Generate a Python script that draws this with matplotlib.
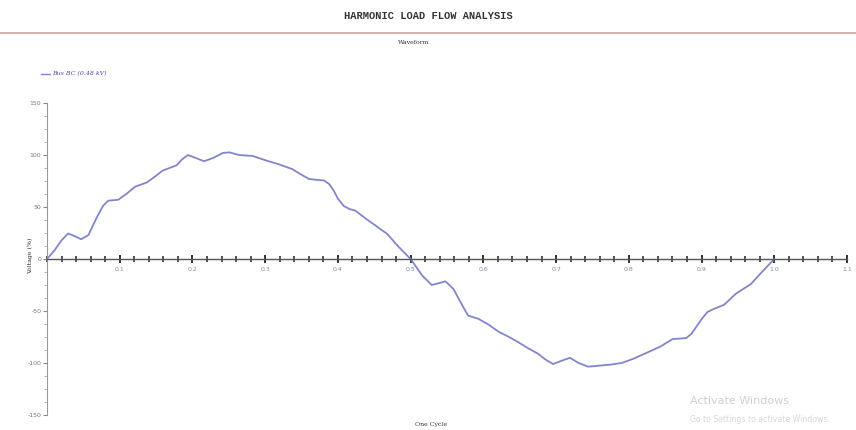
import matplotlib
matplotlib.use('Agg')
import matplotlib.pyplot as plt
from matplotlib.ticker import MultipleLocator, FixedLocator
from matplotlib.lines import Line2D

# one cycle of the bus voltage waveform, % of nominal
cycle = [0.000, 0.010, 0.020, 0.029, 0.038, 0.047, 0.057, 0.063, 0.070, 0.077,
         0.084, 0.098, 0.110, 0.121, 0.137, 0.148, 0.159, 0.178, 0.186, 0.194,
         0.205, 0.216, 0.228, 0.242, 0.251, 0.264, 0.283, 0.300, 0.319, 0.337,
         0.350, 0.360, 0.372, 0.381, 0.388, 0.394, 0.400, 0.408, 0.416, 0.424,
         0.438, 0.452, 0.468, 0.483, 0.500, 0.516, 0.529, 0.548, 0.559, 0.569,
         0.579, 0.593, 0.607, 0.621, 0.634, 0.648, 0.662, 0.675, 0.686, 0.696,
         0.707, 0.719, 0.731, 0.744, 0.760, 0.776, 0.790, 0.806, 0.822, 0.844,
         0.860, 0.870, 0.879, 0.886, 0.892, 0.900, 0.908, 0.917, 0.931, 0.947,
         0.968, 0.981, 1.000]
voltage = [0, 8, 18, 24.5, 22, 19, 23, 32, 42, 51,
           56, 57, 63, 69.5, 73.5, 79, 85, 90, 96, 100,
           97, 94, 97, 102, 102.5, 100, 99, 95, 91, 86.5,
           81, 77, 76, 75.5, 72, 66, 58, 51, 48, 46.5,
           39, 32, 24, 12, 0, -16, -25, -21.5, -29, -42,
           -54.5, -57.5, -63, -70, -74.5, -80, -86, -91, -97, -101,
           -98, -95, -100, -103.5, -102.5, -101.5, -100, -96, -91, -84,
           -77, -76.5, -76, -72, -66, -58, -51, -48, -44, -33.5,
           -24, -14, 0]

x_ticks = [0.1, 0.2, 0.3, 0.4, 0.5, 0.6, 0.7, 0.8, 0.9, 1.0, 1.1]
y_ticks = [-150, -100, -50, 0, 50, 100, 150]
bus_name = 'Bus BC (0.48 kV)'

line_col = '#8484cc'

fig = plt.figure(figsize=(8.56, 4.30), dpi=100)
ax = fig.add_axes([0.0549, 0.0349, 0.9346, 0.7256])

ax.plot(cycle, voltage, color=line_col, lw=1.3, solid_joinstyle='round',
        solid_capstyle='round')

ax.set_xlim(0, 1.1)
ax.set_ylim(-150, 150)

# axes cross at the origin
ax.spines['top'].set_visible(False)
ax.spines['right'].set_visible(False)
ax.spines['bottom'].set_position(('data', 0))
ax.spines['bottom'].set_color('#555555')
ax.spines['left'].set_color('#999999')
ax.spines['bottom'].set_linewidth(1.0)
ax.spines['left'].set_linewidth(0.8)

ax.xaxis.set_major_locator(FixedLocator(x_ticks))
ax.xaxis.set_minor_locator(MultipleLocator(0.02))
ax.yaxis.set_major_locator(FixedLocator(y_ticks))
ax.yaxis.set_minor_locator(MultipleLocator(12.5))
ax.set_xticklabels(['%.1f' % v for v in x_ticks])
ax.set_yticklabels([str(v) for v in y_ticks])

ax.tick_params(axis='x', which='major', direction='inout', length=6, width=1.4,
               colors='#333333', labelsize=4.5, labelcolor='#7d8aa8', pad=3)
ax.tick_params(axis='x', which='minor', direction='inout', length=4, width=1.2,
               colors='#333333')
ax.tick_params(axis='y', which='major', direction='out', length=3, width=0.8,
               colors='#888888', labelsize=4.5, labelcolor='#777777', pad=1)
ax.tick_params(axis='y', which='minor', direction='out', length=2, width=0.6,
               colors='#aaaaaa')

fig.text(0.036, 0.405, 'Voltage (%)', rotation=90, ha='center', va='center',
         fontsize=4.5, color='#333333', family='DejaVu Serif')
fig.text(0.503, 0.012, 'One Cycle', ha='center', va='center',
         fontsize=4.5, color='#333333', family='DejaVu Serif')

# report header
fig.text(0.500, 0.962, 'HARMONIC LOAD FLOW ANALYSIS', ha='center', va='center',
         fontsize=7.5, fontweight='bold', color='#333333', family='Liberation Mono')
fig.add_artist(Line2D([0.0, 1.0], [0.923, 0.923], color='#c9a3a3', lw=1.2,
                      transform=fig.transFigure))
fig.text(0.483, 0.902, 'Waveform', ha='center', va='center',
         fontsize=4.5, color='#333333', family='DejaVu Serif')

# legend
fig.add_artist(Line2D([0.048, 0.058], [0.828, 0.828], color=line_col, lw=1.0,
                      transform=fig.transFigure))
fig.text(0.061, 0.828, bus_name, ha='left', va='center',
         fontsize=4.5, color='#4a4aa8', family='DejaVu Serif', style='italic')

# windows activation watermark
fig.text(0.806, 0.067, 'Activate Windows', ha='left', va='center',
         fontsize=8, color='#d0d0d0')
fig.text(0.806, 0.024, 'Go to Settings to activate Windows.', ha='left', va='center',
         fontsize=5.6, color='#d6d6d6')

plt.savefig('out.png', dpi=100)
plt.close()
